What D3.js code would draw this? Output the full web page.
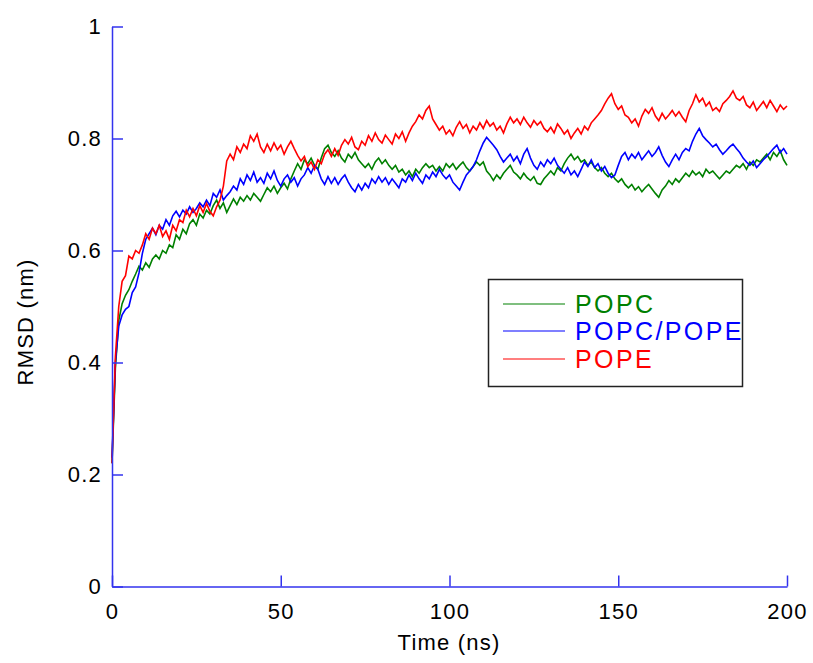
<!DOCTYPE html>
<html>
<head>
<meta charset="utf-8">
<script src="https://cdn.jsdelivr.net/npm/d3@7"></script>
<style>
  body { margin: 0; background: #fff; }
  svg text { font-family: "Liberation Sans", Arial, sans-serif; }
</style>
</head>
<body>
<div id="chart"></div>
<script>
// RMSD (nm) sampled every 1 ns, t = 0 .. 200
const popc = [
  0.22, 0.39, 0.475, 0.505, 0.52, 0.53, 0.545, 0.558, 0.572, 0.565,
  0.578, 0.57, 0.585, 0.592, 0.585, 0.6, 0.595, 0.61, 0.605, 0.628,
  0.62, 0.638, 0.63, 0.648, 0.655, 0.645, 0.665, 0.658, 0.672, 0.665,
  0.68, 0.69, 0.675, 0.685, 0.668, 0.68, 0.692, 0.682, 0.695, 0.688,
  0.698, 0.69, 0.702, 0.695, 0.688, 0.7, 0.712, 0.705, 0.715, 0.702,
  0.712, 0.72, 0.71, 0.728, 0.742, 0.755, 0.745, 0.762, 0.755, 0.765,
  0.752, 0.745, 0.765, 0.782, 0.788, 0.775, 0.768, 0.778, 0.765, 0.758,
  0.772, 0.765, 0.775, 0.762, 0.755, 0.748, 0.755, 0.745, 0.758, 0.765,
  0.755, 0.762, 0.752, 0.745, 0.752, 0.74, 0.745, 0.735, 0.742, 0.732,
  0.745, 0.738, 0.748, 0.755, 0.748, 0.752, 0.742, 0.75, 0.742, 0.755,
  0.748, 0.755, 0.745, 0.752, 0.758, 0.748, 0.742, 0.75, 0.758, 0.752,
  0.758, 0.742, 0.735, 0.725, 0.735, 0.728, 0.738, 0.745, 0.752, 0.74,
  0.735, 0.728, 0.738, 0.73, 0.725, 0.732, 0.72, 0.718, 0.728, 0.735,
  0.742, 0.735, 0.748, 0.742, 0.755, 0.765, 0.772, 0.762, 0.768, 0.758,
  0.762, 0.752, 0.758, 0.748, 0.742, 0.748, 0.738, 0.732, 0.738, 0.728,
  0.722, 0.728, 0.718, 0.712, 0.718, 0.708, 0.714, 0.705, 0.712, 0.718,
  0.71, 0.702, 0.695, 0.708, 0.715, 0.725, 0.718, 0.728, 0.722, 0.73,
  0.738, 0.732, 0.742, 0.735, 0.74, 0.732, 0.745, 0.738, 0.742, 0.735,
  0.728, 0.735, 0.742, 0.738, 0.745, 0.752, 0.748, 0.755, 0.745, 0.758,
  0.752, 0.762, 0.758, 0.765, 0.772, 0.762, 0.775, 0.768, 0.778, 0.762,
  0.752
];

const popcPope = [
  0.23, 0.40, 0.465, 0.485, 0.495, 0.50, 0.525, 0.535, 0.56, 0.595,
  0.62, 0.63, 0.64, 0.628, 0.645, 0.638, 0.655, 0.645, 0.662, 0.67,
  0.66, 0.672, 0.665, 0.678, 0.668, 0.675, 0.685, 0.678, 0.69, 0.68,
  0.702, 0.695, 0.708, 0.69, 0.698, 0.705, 0.715, 0.708, 0.728, 0.718,
  0.735, 0.725, 0.74, 0.722, 0.73, 0.72, 0.738, 0.728, 0.742, 0.725,
  0.715, 0.728, 0.735, 0.722, 0.73, 0.715, 0.728, 0.735, 0.748, 0.738,
  0.752, 0.745, 0.728, 0.718, 0.732, 0.72, 0.73, 0.718, 0.728, 0.735,
  0.722, 0.712, 0.705, 0.718, 0.708, 0.72, 0.712, 0.728, 0.72, 0.732,
  0.722, 0.73, 0.718, 0.728, 0.72, 0.712, 0.728, 0.722, 0.735, 0.725,
  0.738, 0.728, 0.72, 0.735, 0.728, 0.74, 0.732, 0.745, 0.735, 0.728,
  0.735, 0.722, 0.715, 0.708, 0.722, 0.735, 0.742, 0.75, 0.762, 0.778,
  0.792, 0.802, 0.795, 0.788, 0.78, 0.768, 0.758, 0.765, 0.772, 0.76,
  0.768, 0.755, 0.772, 0.782, 0.765, 0.752, 0.745, 0.758, 0.75, 0.762,
  0.755, 0.765, 0.752, 0.745, 0.738, 0.748, 0.735, 0.742, 0.732, 0.745,
  0.758, 0.75, 0.762, 0.748, 0.755, 0.742, 0.75, 0.738, 0.73, 0.735,
  0.752, 0.768, 0.775, 0.762, 0.772, 0.765, 0.775, 0.762, 0.77, 0.778,
  0.768, 0.775, 0.785, 0.77, 0.758, 0.75, 0.762, 0.772, 0.762, 0.775,
  0.782, 0.778, 0.795, 0.808, 0.818, 0.805, 0.798, 0.792, 0.785, 0.79,
  0.78, 0.772, 0.778, 0.785, 0.79, 0.782, 0.775, 0.765, 0.758, 0.752,
  0.76, 0.748, 0.755, 0.762, 0.768, 0.775, 0.782, 0.788, 0.775, 0.782,
  0.772
];

const pope = [
  0.22, 0.41, 0.50, 0.545, 0.555, 0.59, 0.585, 0.60, 0.595, 0.61,
  0.63, 0.62, 0.64, 0.63, 0.645, 0.625, 0.635, 0.62, 0.645, 0.635,
  0.655, 0.65, 0.672, 0.66, 0.675, 0.662, 0.68, 0.668, 0.684, 0.67,
  0.662, 0.678, 0.69, 0.715, 0.76, 0.772, 0.762, 0.785, 0.775, 0.79,
  0.782, 0.805, 0.795, 0.808, 0.785, 0.775, 0.79, 0.778, 0.792, 0.78,
  0.788, 0.772, 0.785, 0.795, 0.782, 0.77, 0.76, 0.768, 0.75, 0.758,
  0.745, 0.762, 0.755, 0.772, 0.78, 0.768, 0.782, 0.77, 0.788, 0.798,
  0.79, 0.802, 0.785, 0.78, 0.795, 0.788, 0.805, 0.795, 0.81, 0.798,
  0.792, 0.806, 0.798, 0.79, 0.808, 0.80, 0.812, 0.795, 0.81, 0.822,
  0.83, 0.842, 0.835, 0.85, 0.858, 0.835, 0.825, 0.815, 0.822, 0.808,
  0.815, 0.805, 0.82, 0.83, 0.818, 0.825, 0.81, 0.822, 0.815, 0.828,
  0.818, 0.832, 0.822, 0.828, 0.815, 0.822, 0.81, 0.826, 0.838, 0.828,
  0.835, 0.825, 0.838, 0.828, 0.82, 0.832, 0.824, 0.83, 0.818, 0.812,
  0.82, 0.81, 0.826, 0.818, 0.808, 0.815, 0.80, 0.81, 0.818, 0.808,
  0.822, 0.815, 0.828, 0.835, 0.842, 0.85, 0.862, 0.872, 0.88, 0.862,
  0.852, 0.858, 0.842, 0.838, 0.828, 0.835, 0.822, 0.84, 0.852, 0.845,
  0.855, 0.84, 0.832, 0.845, 0.835, 0.842, 0.85, 0.84, 0.848, 0.838,
  0.83, 0.85, 0.862, 0.878, 0.865, 0.872, 0.858, 0.865, 0.85, 0.855,
  0.848, 0.862, 0.868, 0.875, 0.885, 0.872, 0.868, 0.875, 0.86, 0.855,
  0.865, 0.85, 0.858, 0.866, 0.855, 0.868, 0.858, 0.848, 0.86, 0.852,
  0.858
];

const seriesNames = ["POPC", "POPC/POPE", "POPE"];
const seriesColors = ["#008000", "#0000ff", "#ff0000"];
const xTicks = [0, 50, 100, 150, 200];
const yTicks = [0, 0.2, 0.4, 0.6, 0.8, 1];

const W = 813, H = 663;
const axisColor = "#3333ee";

const svg = d3.select("#chart").append("svg")
    .attr("width", W)
    .attr("height", H);

const x = d3.scaleLinear().domain([0, 200]).range([112, 787]);
const y = d3.scaleLinear().domain([0, 1]).range([586.5, 26.5]);

// lines, drawn in legend order so red ends up on top
const line = d3.line()
    .x((d, i) => x(i))
    .y(d => y(d));

[popc, popcPope, pope].forEach((s, k) => {
    svg.append("path")
        .datum(s)
        .attr("d", line)
        .attr("fill", "none")
        .attr("stroke", seriesColors[k])
        .attr("stroke-width", 1.6)
        .attr("stroke-linejoin", "miter");
});

// axes: only left and bottom, ticks inward
const xAxis = svg.append("g")
    .attr("transform", "translate(0," + y(0) + ")")
    .call(d3.axisBottom(x).tickValues(xTicks).tickFormat(d3.format("d"))
        .tickSizeInner(-11).tickSizeOuter(0).tickPadding(17));

const yAxis = svg.append("g")
    .attr("transform", "translate(" + x(0) + ",0)")
    .call(d3.axisLeft(y).tickValues(yTicks).tickFormat(d => d === 0 ? "0" : d === 1 ? "1" : d3.format(".1f")(d))
        .tickSizeInner(-11).tickSizeOuter(0).tickPadding(10));

[xAxis, yAxis].forEach(g => {
    g.select(".domain").attr("stroke", axisColor).attr("stroke-width", 1.5);
    g.selectAll(".tick line").attr("stroke", axisColor).attr("stroke-width", 1.5);
    g.selectAll(".tick text")
        .attr("fill", "#000")
        .style("font-size", "22px")
        .style("letter-spacing", "1.2px")
        .style("font-family", "'Liberation Sans', Arial, sans-serif");
});

// axis titles
svg.append("text")
    .attr("x", 449)
    .attr("y", 650)
    .attr("text-anchor", "middle")
    .style("font-size", "22px")
    .style("letter-spacing", "1.2px")
    .text("Time (ns)");

svg.append("text")
    .attr("transform", "translate(33,322) rotate(-90)")
    .attr("text-anchor", "middle")
    .style("font-size", "22px")
    .style("letter-spacing", "1.2px")
    .text("RMSD (nm)");

// legend
const legend = svg.append("g");
legend.append("rect")
    .attr("x", 488.5).attr("y", 279.5)
    .attr("width", 254).attr("height", 107)
    .attr("fill", "#fff")
    .attr("stroke", "#222")
    .attr("stroke-width", 1.5);

const rowY = [304, 331, 359];
seriesNames.forEach((name, k) => {
    legend.append("line")
        .attr("x1", 503).attr("x2", 565)
        .attr("y1", rowY[k]).attr("y2", rowY[k])
        .attr("stroke", seriesColors[k])
        .attr("stroke-width", 1.2);
    legend.append("text")
        .attr("x", 575)
        .attr("y", rowY[k])
        .attr("dy", "0.36em")
        .attr("fill", seriesColors[k])
        .style("font-size", "25px")
        .style("letter-spacing", "2.4px")
        .text(name);
});
</script>
</body>
</html>
